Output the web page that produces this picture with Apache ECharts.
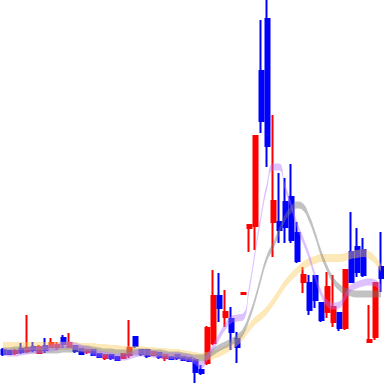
<!DOCTYPE html>
<html>
<head>
<meta charset="utf-8">
<script src="https://cdn.jsdelivr.net/npm/echarts@6/dist/echarts.min.js"></script>
<style>html,body{margin:0;padding:0;background:#fff}#c{width:384px;height:384px}</style>
</head>
<body>
<div id="c"></div>
<script>
// candle data: [open, close, low, high]
var candles = [
[34,30,28,36],[33,30,29,34],[31,33,29,35],[35,32,30,41],[33,36,31,69],[37,34,32,42],[31,37,30,39],[38,34,31,46],
[37,41,36,46],[37,39,34,42],[46,40,36,49],[37,41,36,51],[38,33,31,39],[35,30,29,36],[32,34,30,35],[34,29,28,35],
[30,27,26,31],[26,29,24,30],[29,26,24,30],[27,24,23,28],[26,30,25,31],[29,36,26,64],[47,38,36,48],[34,30,28,35],
[34,28,26,35],[29,32,28,33],[31,27,25,32],[26,29,23,30],[27,25,24,28],[29,26,24,30],[27,24,23,28],[26,23,22,27],
[24,12,1,26],[14,11,9,19],[21,56,19,58],[41,88,39,114],[88,76,62,111],[67,72,57,94],[65,52,34,77],[45,37,21,52],
[90,91,90,91],[156,159,132,159],[158,248,134,248],[313,263,251,364],[365,238,217,384],[162,183,127,269],[162,154,141,211],[182,157,141,206],
[187,144,141,220],[151,123,121,162],[102,109,91,117],[101,74,69,109],[108,84,76,109],[81,64,62,82],[72,97,66,112],[62,77,57,109],
[71,56,53,72],[56,114,54,114],[132,102,102,172],[137,112,107,156],[134,109,107,146],[42,44,42,79],[47,101,44,101],[117,106,92,152]
];
var categories = candles.map(function(_, i){ return 'D' + (i + 1); });

var maFast = [32,31,31,32,33,34,34,35,36,37,39,39,38,36,34,32,30,29,28,27,27,28,30,31,31,30,29,28,28,28,27,26,
23,19,26,36,47,57,64,66,67,94,131,167,198,217,217,197,179,159,144,128,108,91,81,78,79,87,96,99,101,102,101,96];
var maMid = [33,33,34,34,34,34,34,34,34,34,35,35,35,35,35,34,33,32,32,31,31,31,32,32,32,31,31,30,29,29,28,27,
26,26,28,32,36,39,42,46,52,66,84,106,126,138,152,166,174,179,177,166,150,131,116,104,97,93,91,90,90,90,90,90];
var maSlow = [38,38,38,38,38,38,38,38,38,38,38,38,38,37,37,37,36,36,35,35,34,34,34,34,33,33,32,32,31,31,30,29,
28,27,28,29,31,34,38,42,48,56,63,68,74,82,91,100,107,113,118,122,124,126,126,126,126,127,129,130,131,129,124,116];

var bands = [
  {name: 'slow', data: maSlow, h: 8, color: 'rgba(250,200,85,0.42)'},
  {name: 'mid', data: maMid, h: 7, color: 'rgba(120,120,120,0.45)'},
  {name: 'fast', data: maFast, h: 7, color: 'rgba(175,110,255,0.42)'}
];

var series = [{
  type: 'candlestick',
  data: candles,
  barWidth: 4.5,
  itemStyle: {color: '#ff0000', color0: '#0000ff', borderColor: '#ff0000', borderColor0: '#0000ff', borderWidth: 2}
}];
bands.forEach(function(b){
  series.push({
    type: 'line', stack: b.name, data: b.data.map(function(v){ return v - b.h / 2; }),
    smooth: true, symbol: 'none', lineStyle: {opacity: 0, width: 0}, silent: true
  });
  series.push({
    type: 'line', stack: b.name, data: b.data.map(function(){ return b.h; }),
    smooth: true, symbol: 'none', lineStyle: {opacity: 0, width: 0},
    areaStyle: {color: b.color, opacity: 1}, silent: true
  });
});

var chart = echarts.init(document.getElementById('c'));
chart.setOption({
  animation: false,
  grid: {left: 0, right: 0, top: 0, bottom: 0},
  xAxis: {type: 'category', data: categories, boundaryGap: true, show: false},
  yAxis: {type: 'value', min: 0, max: 384, show: false},
  series: series
});
</script>
</body>
</html>
